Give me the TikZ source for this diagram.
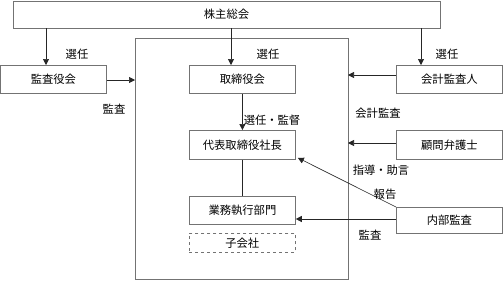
\documentclass[tikz,border=0pt]{standalone}
\usepackage{fontspec}
\setmainfont{Noto Sans CJK JP}
\usetikzlibrary{arrows.meta}
\begin{document}
\begin{tikzpicture}[x=1pt,y=-1pt,
  box/.style={draw=black!55,line width=0.8pt,fill=white},
  conn/.style={draw=black!85,line width=0.6pt},
  arr/.style={conn,-{Triangle[length=6pt,width=6pt]}},
  lbl/.style={font=\fontsize{11.3}{13}\selectfont,inner sep=0pt},
  txt/.style={font=\fontsize{11.3}{13}\selectfont}]
\useasboundingbox (0,0) rectangle (503,281);
% boxes
\draw[box] (13,1) rectangle (440,28);
\node[txt] (soukai) at (226.5,14.5) {株主総会};
\draw[box,line width=1pt] (135,38) rectangle (348,279);
\coordinate (bigL) at (135,80);
\node[box,minimum width=106pt,minimum height=28pt,anchor=north west,inner sep=0pt,txt] (kansayaku) at (0,65) {監査役会};
\node[box,minimum width=106pt,minimum height=28pt,anchor=north west,inner sep=0pt,txt] (torishimari) at (189,65) {取締役会};
\node[box,minimum width=106pt,minimum height=28pt,anchor=north west,inner sep=0pt,txt] (kaikei) at (396,65) {会計監査人};
\node[box,minimum width=106pt,minimum height=29pt,anchor=north west,inner sep=0pt,txt] (shacho) at (189,130) {代表取締役社長};
\node[box,minimum width=106pt,minimum height=29pt,anchor=north west,inner sep=0pt,txt] (komon) at (396,130) {顧問弁護士};
\node[box,minimum width=106pt,minimum height=28pt,anchor=north west,inner sep=0pt,txt] (gyomu) at (189,196) {業務執行部門};
\node[box,minimum width=106pt,minimum height=26pt,anchor=north west,inner sep=0pt,txt] (naibu) at (396,207) {内部監査};
\node[draw=black!55,dashed,line width=0.6pt,minimum width=106pt,minimum height=19pt,anchor=north west,inner sep=0pt,txt] (kogaisha) at (189,233) {子会社};
% connectors from top
\coordinate (t1) at (46,28);
\coordinate (t2) at (231,28);
\coordinate (t3) at (421,28);
\draw[arr] (t1) -- (t1 |- kansayaku.north);
\draw[arr] (t2) -- (t2 |- torishimari.north);
\draw[arr] (t3) -- (t3 |- kaikei.north);
\coordinate (kR) at (348,75);
\coordinate (kB) at (348,143);
\draw[arr] (kansayaku.east |- bigL) -- (bigL);
\draw[arr] (kaikei.west |- kR) -- (kR);
\draw[arr] (komon.west |- kB) -- (kB);
\draw[arr] (torishimari.south) -- (shacho.north);
\draw[conn] (shacho.south) -- (gyomu.north);
\draw[arr] (naibu.north west) -- ([xshift=2pt,yshift=2pt]shacho.south east);
\draw[arr] (naibu.west |- 0,219) -- (gyomu.east |- 0,219);
% labels
\node[lbl] (l1) at (77,54) {選任};
\node[lbl] (l2) at (268,54) {選任};
\node[lbl] (l3) at (447,54) {選任};
\node[lbl] (l4) at (114,109) {監査};
\node[lbl] (l5) at (272,120) {選任・監督};
\node[lbl] (l6) at (378,113) {会計監査};
\node[lbl] (l7) at (381,170) {指導・助言};
\node[lbl] (l8) at (385,194) {報告};
\node[lbl] (l9) at (370,235) {監査};
\end{tikzpicture}
\end{document}
